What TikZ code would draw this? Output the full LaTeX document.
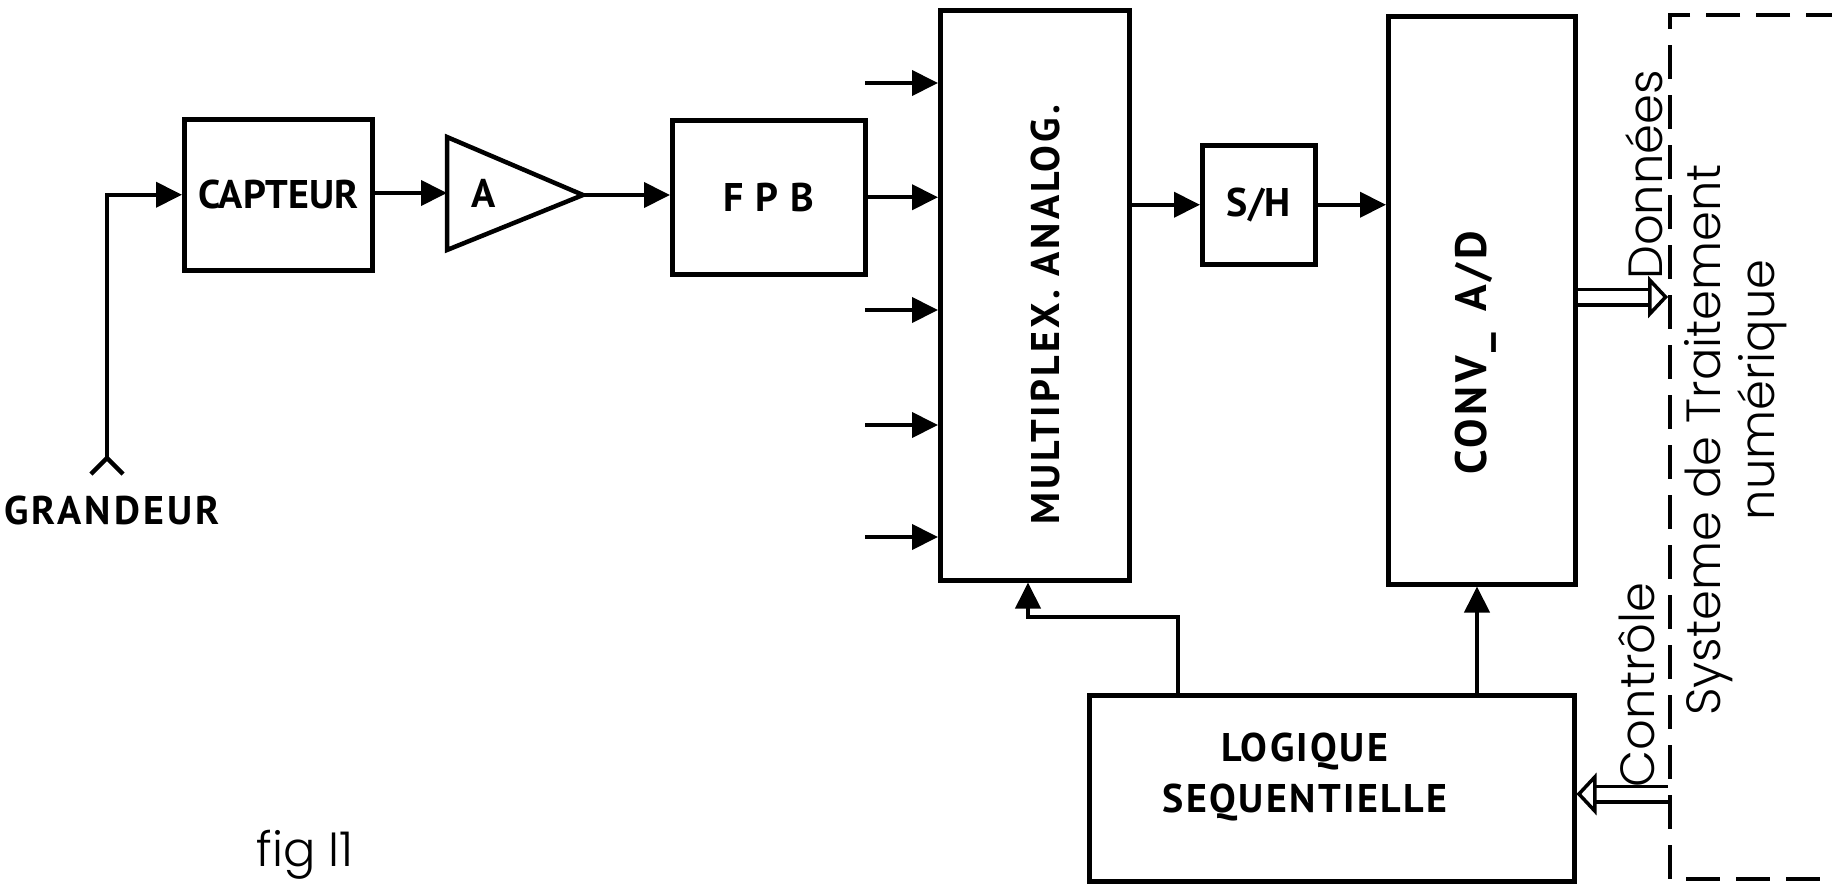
\documentclass[tikz,border=0pt]{standalone}
\usepackage{fontspec}
\newfontfamily\blk{PT Sans}
\IfFontExistsTF{Poppins Light}{\newfontfamily\thin{Poppins Light}}{\newfontfamily\thin{Poppins}}
\usetikzlibrary{arrows.meta}
\begin{document}
\begin{tikzpicture}[x=1pt,y=-1pt,line width=4.5pt,
  blockbox/.style={draw,line width=4.5pt,inner sep=0pt,anchor=north west,
    font=\blk\bfseries\fontsize{40}{44}\selectfont},
  blocklabel/.style={font=\blk\bfseries\fontsize{40}{44}\selectfont,inner sep=0pt},
  thinlabel/.style={font=\thin\fontsize{48}{50}\selectfont,inner sep=0pt},
  conn/.style={line width=4pt,-{Triangle[length=26pt,width=25pt]}},
  dbl/.style={double,double distance=12pt,line width=3.5pt,-{Triangle[open,length=20pt,width=42pt]}},
  frame/.style={line width=4pt,dash pattern=on 34pt off 16pt}]
\useasboundingbox (0,0) rectangle (1832,886);
% blocks
\node[blockbox,minimum width=188pt,minimum height=151pt] (capteur) at (182,117) {CAPTEUR};
\node[blockbox,minimum width=193pt,minimum height=154pt] (fpb) at (670,118) {\addfontfeature{LetterSpace=4}F P B};
\node[blockbox,minimum width=189pt,minimum height=570pt] (mux) at (938,8) {};
\node[blockbox,minimum width=113pt,minimum height=119pt] (sh) at (1200,143) {S/H};
\node[blockbox,minimum width=187pt,minimum height=568pt] (conv) at (1386,14) {};
\node[blockbox,minimum width=485pt,minimum height=186pt] (logic) at (1087,693) {};
% amplifier
\coordinate (ampa) at (447,137);
\coordinate (ampb) at (447,250);
\coordinate (ampout) at (583,195);
\coordinate (ampin) at (447,193);
\draw[line join=miter] (ampa) -- (ampout) -- (ampb) -- cycle;
\node[blocklabel] (alabel) at (484,193) {A};
% labels in blocks
\node[blocklabel,rotate=90] (muxlabel) at (1045,315) {\addfontfeature{LetterSpace=8}MULTIPLEX. ANALOG.};
\node[blocklabel,rotate=90,font=\blk\bfseries\fontsize{44}{48}\selectfont] (convlabel) at (1476,353) {\addfontfeature{LetterSpace=8}CONV\_\, A/D};
\node[blocklabel] (logic1) at (1305,752) {\addfontfeature{LetterSpace=6}LOGIQUE};
\node[blocklabel] (logic2) at (1305,803) {\addfontfeature{LetterSpace=6}SEQUENTIELLE};
\node[blocklabel] (grandeur) at (112,510) {\addfontfeature{LetterSpace=8}GRANDEUR};
% input
\coordinate (gin) at (107,458);
\coordinate (forkl) at (91,474);
\coordinate (forkr) at (123,474);
\draw[line width=4.5pt] (forkl) -- (gin) -- (forkr);
\draw[conn] (gin) |- (capteur.west);
\draw[conn] (capteur.east |- ampin) -- (ampin);
\draw[conn] (ampout) -- (fpb.west |- ampout);
\draw[conn] (fpb.east) -- (mux.west |- fpb.east);
\coordinate (in1) at (865,83);
\coordinate (in3) at (865,310);
\coordinate (in4) at (865,425);
\coordinate (in5) at (865,537);
\foreach \i in {in1,in3,in4,in5} \draw[conn] (\i) -- (mux.west |- \i);
\draw[conn] (mux.east |- sh.west) -- (sh.west);
\draw[conn] (sh.east) -- (conv.west |- sh.east);
% control lines
\coordinate (cx) at (1477,640);
\draw[conn] (logic.north -| cx) -- (conv.south -| cx);
\coordinate (fb1) at (1178,617);
\coordinate (fb2) at (1028,617);
\draw[conn] (logic.north -| fb1) -- (fb1) -- (fb2) -- (mux.south -| fb2);
% digital system frame
\coordinate (ftl) at (1670,15);
\coordinate (fbl) at (1670,879);
\draw[frame] (1840,15) -- (ftl) -- (fbl) -- (1840,879);
\coordinate (dat) at (1668,297);
\coordinate (ctl) at (1668,794);
\draw[dbl] (conv.east |- dat) -- (dat);
\draw[dbl] (ctl) -- (logic.east |- ctl);
% thin labels
\node[thinlabel,rotate=90] (donnees) at (1644,175) {Données};
\node[thinlabel,rotate=90] (controle) at (1637,685) {Contrôle};
\node[thinlabel,rotate=90] (systeme) at (1709,440) {Systeme de Traitement};
\node[thinlabel,rotate=90] (numerique) at (1762,390) {numérique};
\node[thinlabel] (fig) at (305,855) {fig I1};
\end{tikzpicture}
\end{document}
